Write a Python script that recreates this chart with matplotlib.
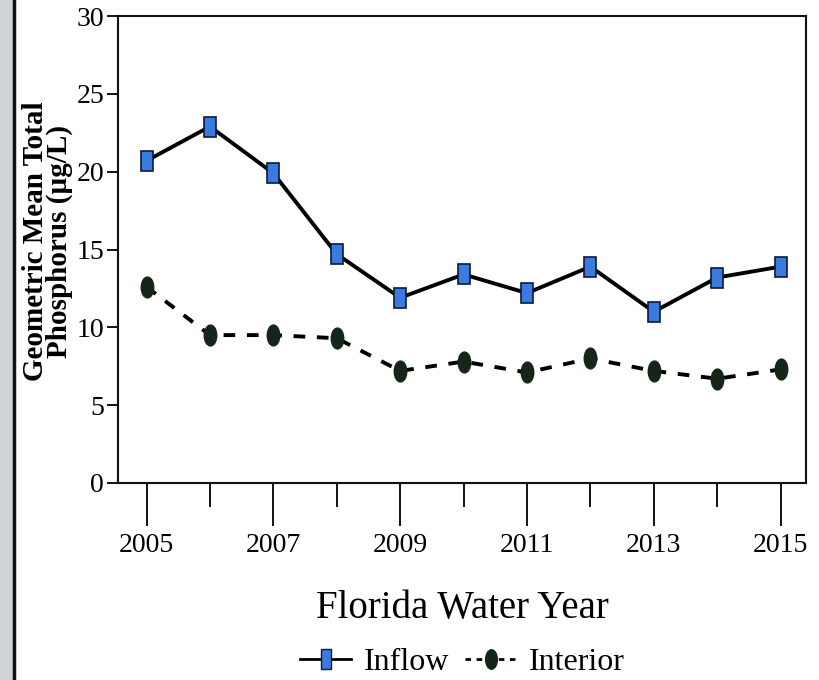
import matplotlib
matplotlib.use("Agg")
import matplotlib.pyplot as plt
from matplotlib.markers import MarkerStyle
from matplotlib.transforms import Affine2D
from matplotlib.patches import Rectangle
from matplotlib.lines import Line2D

years = [2005, 2006, 2007, 2008, 2009, 2010, 2011, 2012, 2013, 2014, 2015]
inflow = [20.7, 22.9, 19.9, 14.7, 11.9, 13.4, 12.2, 13.9, 11.0, 13.2, 13.9]
interior = [12.6, 9.5, 9.5, 9.3, 7.2, 7.8, 7.1, 8.0, 7.2, 6.7, 7.3]
major_years = [2005, 2007, 2009, 2011, 2013, 2015]
minor_years = [2006, 2008, 2010, 2012, 2014]
yticks = [0, 5, 10, 15, 20, 25, 30]

serif = ["Liberation Serif", "DejaVu Serif"]
plt.rcParams["font.family"] = serif

fig = plt.figure(figsize=(8.19, 6.8), dpi=100)
ax = fig.add_axes([118/819, 1-483/680, (806-118)/819, (483-16)/680])

sq = MarkerStyle("s", transform=Affine2D().scale(0.55, 1.0))
el = MarkerStyle("o", transform=Affine2D().scale(0.6, 1.0))

ax.plot(years, inflow, color="black", lw=2.8, marker=sq, markersize=15,
        markerfacecolor="#3a7be0", markeredgecolor="#0b1a3a", markeredgewidth=1.2,
        label="Inflow", zorder=3)
ax.plot(years, interior, color="black", lw=2.8, linestyle=(0, (3, 3)), marker=el,
        markersize=15, markerfacecolor="#14261a", markeredgecolor="#14261a",
        label="Interior", zorder=3)

ax.set_xlim(2004.55, 2015.4)
ax.set_ylim(0, 30)
ax.set_yticks(yticks)
ax.set_xticks(major_years)
ax.set_xticks(minor_years, minor=True)
ax.tick_params(axis="y", direction="out", length=8, width=1.3, labelsize=20, pad=2)
ax.tick_params(axis="x", which="major", direction="out", length=31, width=1.3,
               labelsize=20, pad=5)
ax.tick_params(axis="x", which="minor", direction="out", length=17, width=1.3)
for s in ax.spines.values():
    s.set_linewidth(1.5)
    s.set_color("#111111")

ax.set_xlabel("Florida Water Year", fontsize=28, labelpad=23)
fig.text(0.058, 0.645, "Geometric Mean Total\nPhosphorus (\u00b5g/L)", rotation=90,
         ha="center", va="center", fontsize=21, fontweight="bold",
         linespacing=0.85, family=serif)

handles = [
    Line2D([], [], color="black", lw=2, marker=sq, markersize=14,
           markerfacecolor="#3a7be0", markeredgecolor="#0b1a3a"),
    Line2D([], [], color="black", lw=2, linestyle=(0, (2, 2)), marker=el, markersize=14,
           markerfacecolor="#14261a", markeredgecolor="#14261a"),
]
fig.legend(handles, ["Inflow", "Interior"], loc="center", bbox_to_anchor=(0.565, 0.026),
           ncol=2, frameon=False, fontsize=23, handlelength=1.6, handletextpad=0.4,
           columnspacing=0.5)

# scanned page edge on the left
fig.patches.append(Rectangle((0, 0), 13/819, 1, transform=fig.transFigure,
                             facecolor="#cfd2d6", edgecolor="none", zorder=0))
fig.lines.append(Line2D([14/819, 14/819], [0, 1], transform=fig.transFigure,
                        color="#111111", lw=2.5))

fig.savefig("out.png", dpi=100)
